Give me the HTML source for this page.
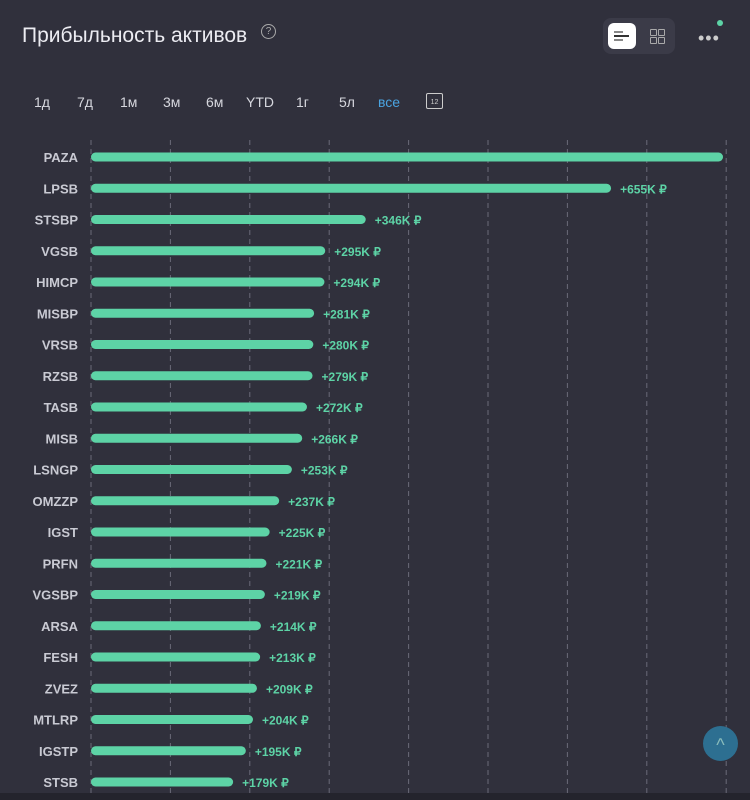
<!DOCTYPE html>
<html><head><meta charset="utf-8"><style>
body{margin:0;width:750px;height:800px;background:#30303c;overflow:hidden;font-family:"Liberation Sans",sans-serif}
.t{position:absolute;left:22px;top:24px;font-size:21px;color:#ececf2}
.q{position:absolute;left:261px;top:24px;width:13px;height:13px;border:1px solid #aaa;border-radius:50%;font-size:10px;color:#aaa;text-align:center;line-height:13px}
.tb{position:absolute;top:94px;font-size:14px;color:#d6d7de}
.sq{position:absolute;width:5px;height:5px;border:1.3px solid #aaa;border-radius:1px}
</style></head><body>
<div class="t">Прибыльность активов</div>
<div class="q">?</div>
<div style="position:absolute;left:603px;top:18px;width:72px;height:36px;background:#3b3b48;border-radius:8px">
 <div style="position:absolute;left:5px;top:5px;width:28px;height:26px;background:#fff;border-radius:6px">
  <div style="position:absolute;left:6px;top:8px;width:9px;height:2px;background:#888"></div>
  <div style="position:absolute;left:6px;top:12px;width:15px;height:2px;background:#333"></div>
  <div style="position:absolute;left:6px;top:16px;width:9px;height:2px;background:#888"></div></div>
 <div style="position:absolute;left:47px;top:11px;width:16px;height:16px">
  <div class="sq" style="left:0;top:0"></div><div class="sq" style="left:8px;top:0"></div>
  <div class="sq" style="left:0;top:8px"></div><div class="sq" style="left:8px;top:8px"></div></div>
</div>
<div style="position:absolute;left:698px;top:28px;color:#ccc;font-size:18px;letter-spacing:1px">•••</div>
<div style="position:absolute;left:717px;top:20px;width:6px;height:6px;border-radius:50%;background:#5dd3a6"></div>
<div class="tb" style="left:34px">1д</div>
<div class="tb" style="left:77px">7д</div>
<div class="tb" style="left:120px">1м</div>
<div class="tb" style="left:163px">3м</div>
<div class="tb" style="left:206px">6м</div>
<div class="tb" style="left:246px">YTD</div>
<div class="tb" style="left:296px">1г</div>
<div class="tb" style="left:339px">5л</div>
<div class="tb" style="left:378px;color:#4aa3e0">все</div>
<div style="position:absolute;left:426px;top:93px;width:15px;height:14px;border:1.5px solid #ccc;border-radius:2px;font-size:7px;color:#ccc;text-align:center;line-height:17px">12</div>
<svg id="c" width="750" height="800" style="position:absolute;left:0;top:0"></svg>
<div style="position:absolute;left:0;top:793px;width:750px;height:7px;background:#24242d"></div>
<div style="position:absolute;left:703px;top:726px;width:35px;height:35px;border-radius:50%;background:#2d6f91;color:#8bb;font-size:18px;text-align:center;line-height:38px">^</div>
<script>
const categories=["PAZA","LPSB","STSBP","VGSB","HIMCP","MISBP","VRSB","RZSB","TASB","MISB","LSNGP","OMZZP","IGST","PRFN","VGSBP","ARSA","FESH","ZVEZ","MTLRP","IGSTP","STSB"];
const values=[796,655,346,295,294,281,280,279,272,266,253,237,225,221,219,214,213,209,204,195,179];
const labels=["","+655K ₽","+346K ₽","+295K ₽","+294K ₽","+281K ₽","+280K ₽","+279K ₽","+272K ₽","+266K ₽","+253K ₽","+237K ₽","+225K ₽","+221K ₽","+219K ₽","+214K ₽","+213K ₽","+209K ₽","+204K ₽","+195K ₽","+179K ₽"];
const gridTicks=[0,100,200,300,400,500,600,700,800];
const svg=document.getElementById('c');const NS="http://www.w3.org/2000/svg";
const x=v=>91+v*0.794;const y=i=>157+i*31.25;
function mk(t,a){const e=document.createElementNS(NS,t);for(const k in a)e.setAttribute(k,a[k]);svg.appendChild(e);return e;}
gridTicks.forEach(g=>{const l=mk('line',{x1:x(g),x2:x(g),y1:140,y2:793,stroke:'#6a6a78','stroke-dasharray':'5,4','stroke-width':1});

});
categories.forEach((c,i)=>{
 const t=mk('text',{x:78,y:y(i)+5,'text-anchor':'end',fill:'#c9cad3','font-size':13,'font-weight':'bold','font-family':'Liberation Sans'});t.textContent=c;
 
 
 const b=mk('rect',{x:x(0),y:y(i)-4.5,width:x(values[i])-x(0),height:9,rx:4.5,fill:'#5dd3a6'});
 
 
 if(labels[i]){const v=mk('text',{x:x(values[i])+9,y:y(i)+5,fill:'#5dd3a6','font-size':12,'font-weight':'bold','font-family':'Liberation Sans'});v.textContent=labels[i];
 
 }
});
</script>
</body></html>
